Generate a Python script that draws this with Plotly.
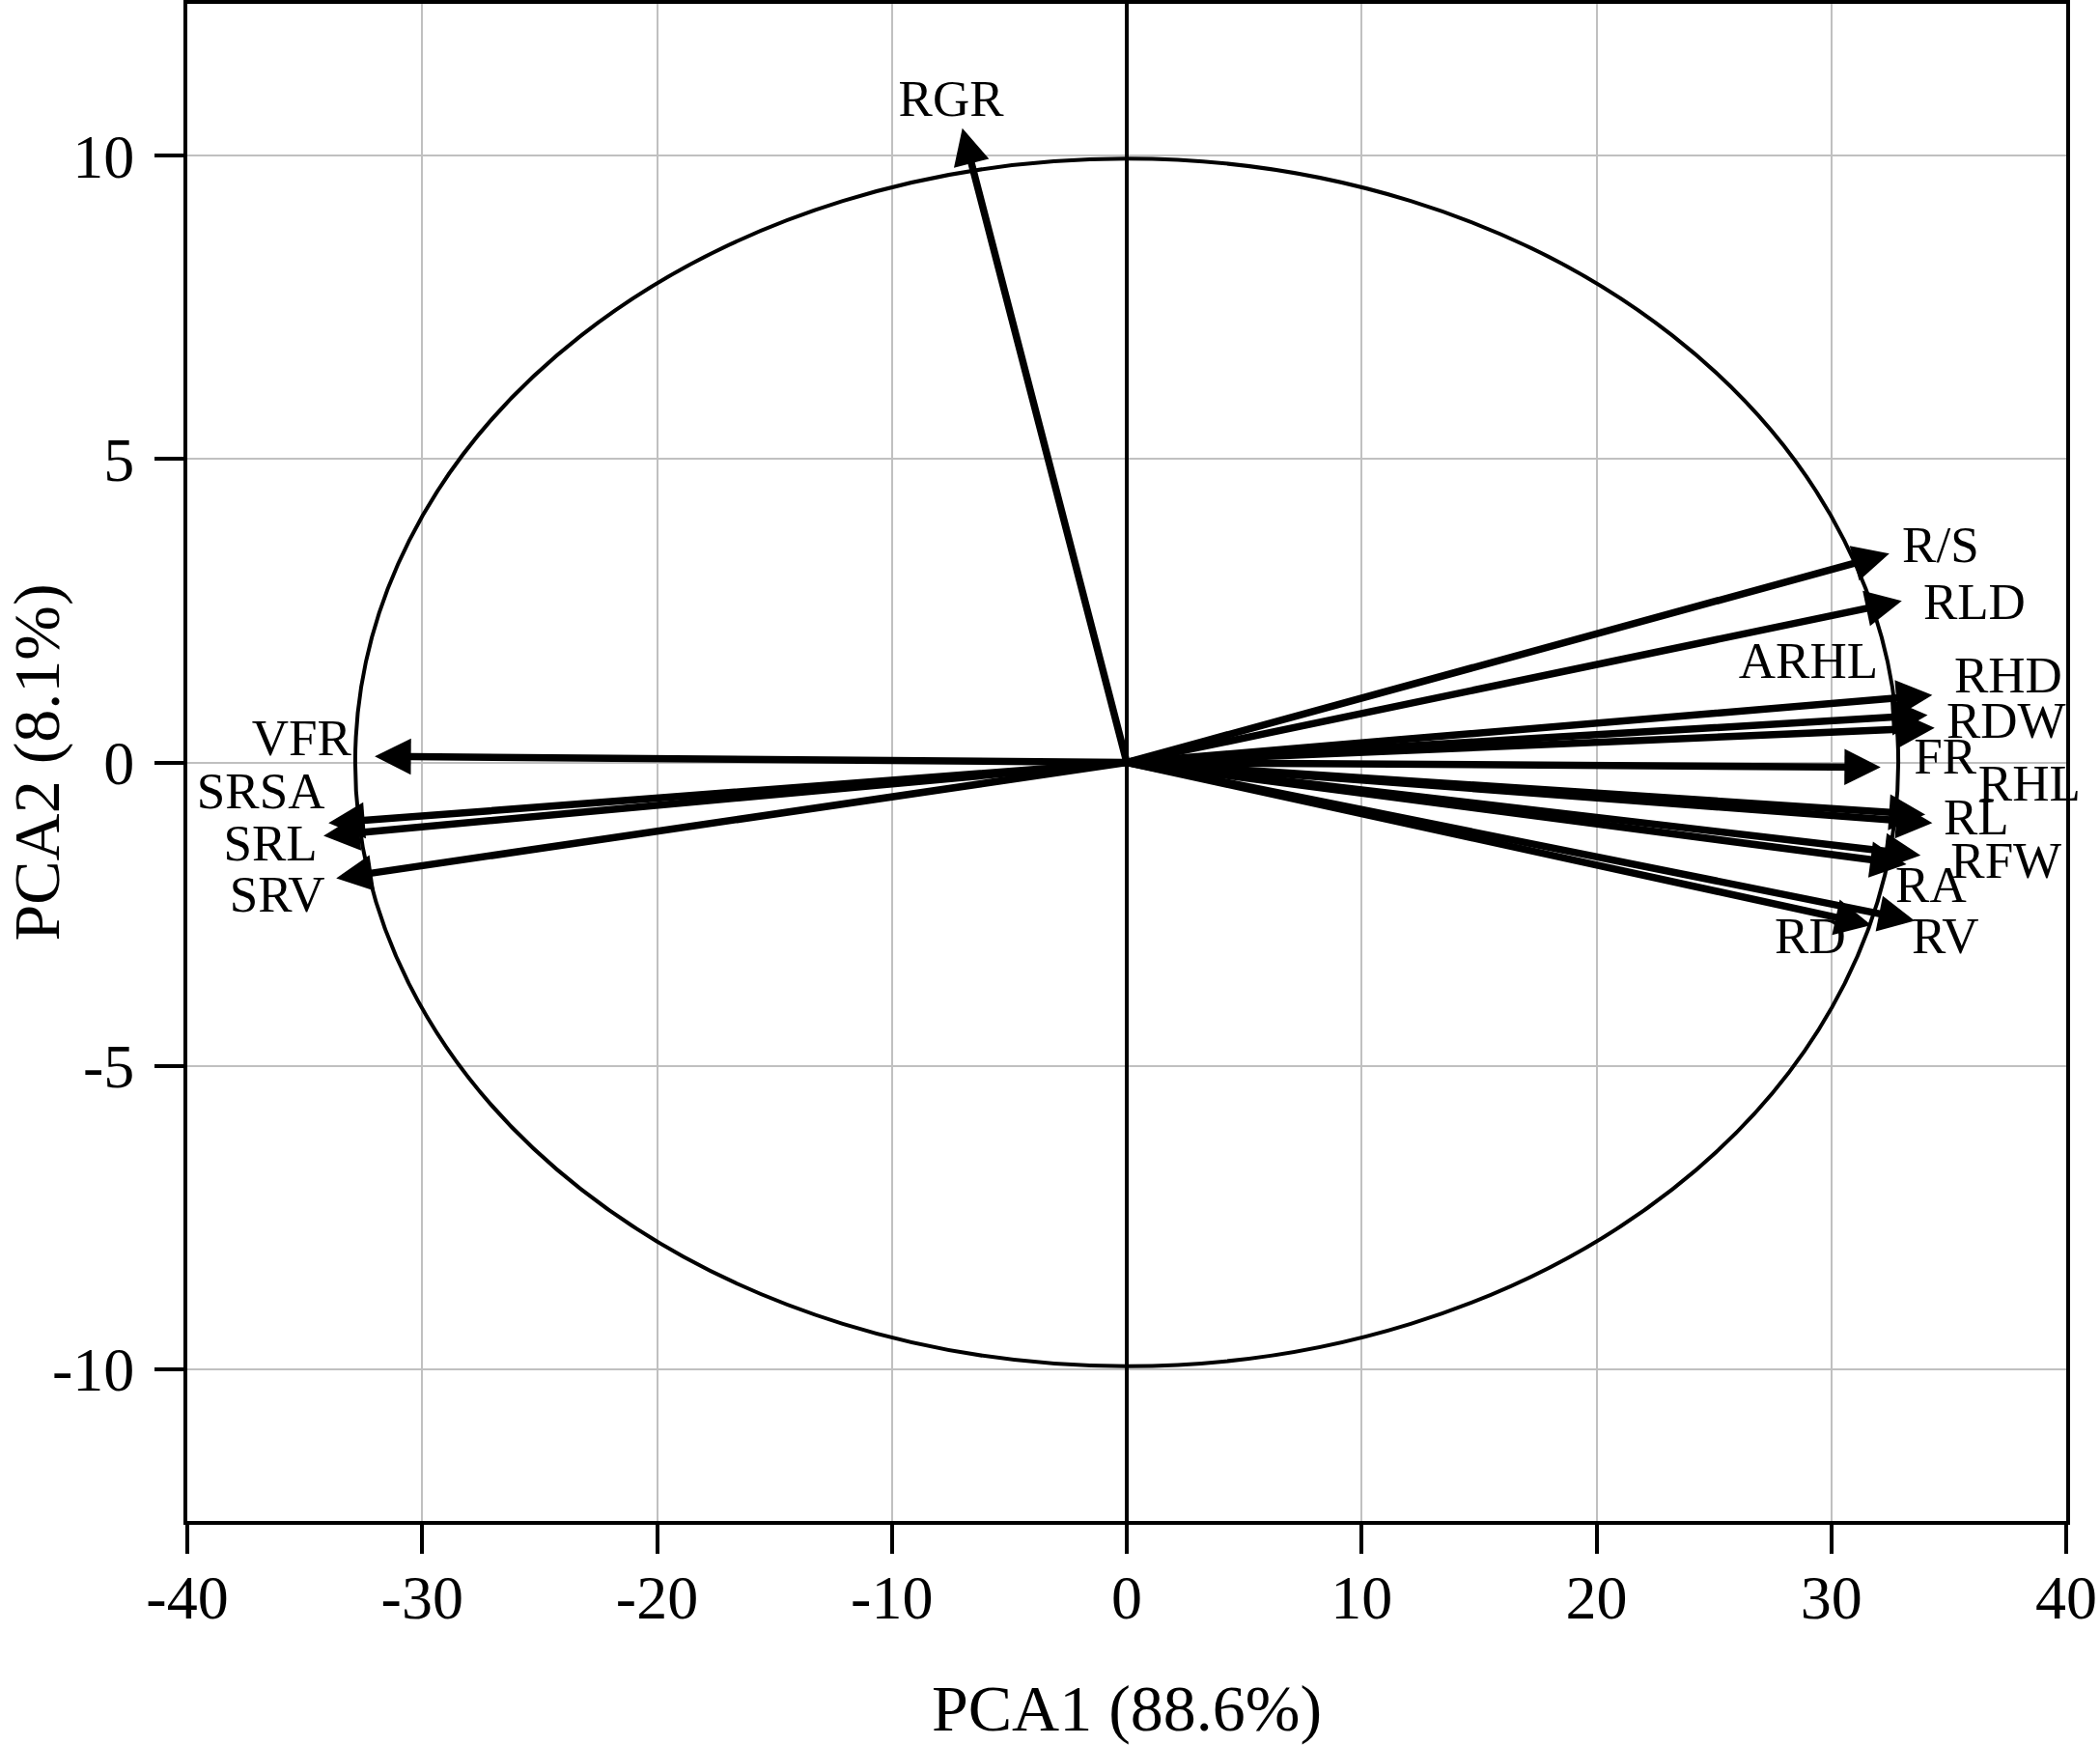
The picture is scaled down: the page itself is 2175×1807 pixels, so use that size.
import plotly.graph_objects as go

# loadings (arrow tips)
variables = ["RGR", "R/S", "RLD", "RHD", "ARHL", "RDW", "FR", "RHL", "RL",
             "RFW", "RA", "RV", "RD", "VFR", "SRSA", "SRL", "SRV"]
pc1 = [-7.0, 32.47, 33.0, 34.3, 34.1, 34.4, 32.1, 34.0, 34.3,
       33.8, 33.2, 33.55, 31.7, -32.02, -33.99, -34.2, -33.66]
pc2 = [10.45, 3.44, 2.66, 1.11, 0.78, 0.57, -0.08, -0.86, -1.0,
       -1.53, -1.68, -2.61, -2.68, 0.10, -1.0, -1.21, -1.91]

# where the variable names sit
label_x = [-7.48, 34.65, 36.09, 37.53, 29.02, 37.44, 34.85, 38.43, 36.17,
           37.44, 34.24, 34.85, 29.10, -35.14, -36.87, -36.46, -36.17]
label_y = [10.86, 3.52, 2.58, 1.37, 1.61, 0.62, 0.03, -0.41, -0.97,
           -1.69, -2.09, -2.93, -2.93, 0.33, -0.54, -1.40, -2.25]

# ellipse half axes
ell_rx = 32.85
ell_ry = 9.95

x_ticks = [-40, -30, -20, -10, 0, 10, 20, 30, 40]
x_tick_text = ["-40", "-30", "-20", "-10", "0", "10", "20", "30", "40"]
y_ticks = [-10, -5, 0, 5, 10]
y_tick_text = ["-10", "-5", "0", "5", "10"]

font_name = "Liberation Serif"

fig = go.Figure()

# variable names
fig.add_trace(go.Scatter(x=label_x, y=label_y, text=variables, mode="text",
                         textposition="middle center",
                         textfont=dict(family=font_name, size=53, color="black"),
                         hoverinfo="skip", showlegend=False, cliponaxis=False))

# ellipse
fig.add_shape(type="circle", xref="x", yref="y",
              x0=-ell_rx, x1=ell_rx, y0=-ell_ry, y1=ell_ry,
              line=dict(color="black", width=4))

# arrows from origin
for i in range(len(variables)):
    fig.add_annotation(x=pc1[i], y=pc2[i], ax=0, ay=0,
                       xref="x", yref="y", axref="x", ayref="y",
                       text="", showarrow=True, arrowhead=2,
                       arrowsize=1.0, arrowwidth=7.5, arrowcolor="black",
                       standoff=0, startstandoff=0)

fig.update_xaxes(range=[-40, 40], tickvals=x_ticks, ticktext=x_tick_text,
                 showgrid=True, gridcolor="#c0c0c0", gridwidth=2,
                 zeroline=True, zerolinecolor="black", zerolinewidth=3.5,
                 showline=True, linecolor="black", linewidth=4, mirror=True,
                 ticks="outside", ticklen=30, tickwidth=4, tickcolor="black",
                 ticklabelstandoff=-10, automargin=False,
                 ticklabeloverflow="allow",
                 tickfont=dict(family=font_name, size=64, color="black"),
                 title=dict(text="PCA1 (88.6%)", standoff=58,
                            font=dict(family=font_name, size=68, color="black")))
fig.update_yaxes(range=[-12.5, 12.5], tickvals=y_ticks, ticktext=y_tick_text,
                 showgrid=True, gridcolor="#c0c0c0", gridwidth=2,
                 zeroline=False,
                 showline=True, linecolor="black", linewidth=4, mirror=True,
                 ticks="outside", ticklen=30, tickwidth=4, tickcolor="black",
                 ticklabelstandoff=8, automargin=False,
                 tickfont=dict(family=font_name, size=64, color="black"),
                 title=dict(text="PCA2 (8.1%)", standoff=40,
                            font=dict(family=font_name, size=68, color="black")))

fig.update_layout(width=2175, height=1807,
                  margin=dict(l=194, r=35, t=4, b=232),
                  plot_bgcolor="white", paper_bgcolor="white")

# drop the page's default body margin so the figure fills the window
fig.write_html("out.html", config={"displayModeBar": False},
               post_script="document.body.style.margin='0';")
